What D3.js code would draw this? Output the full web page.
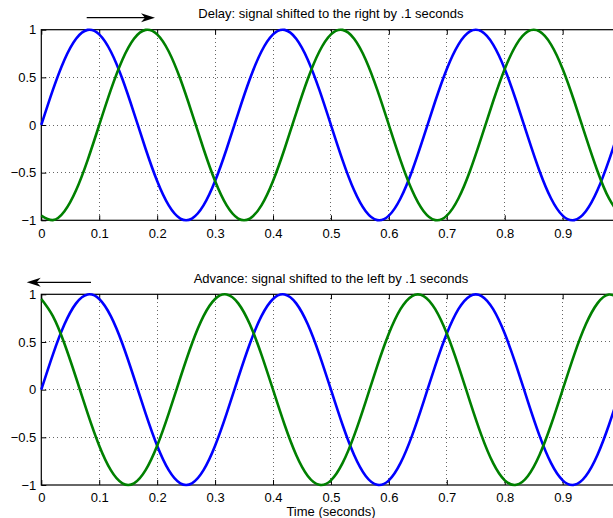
<!DOCTYPE html>
<html><head><meta charset="utf-8">
<script src="https://cdn.jsdelivr.net/npm/d3@7"></script>
<style>
body{margin:0;background:#fff;}
svg{display:block;}
text{font-family:"Liberation Sans",Arial,Helvetica,sans-serif;fill:#000;}
</style></head>
<body><svg id="c" width="613" height="518"></svg>
<script>
// ---- data ----
const time = [0,0.02,0.04,0.06,0.08,0.10,0.12,0.14,0.16,0.18,0.20,0.22,0.24,0.26,0.28,0.30,0.32,0.34,0.36,0.38,0.40,0.42,0.44,0.46,0.48,0.50,0.52,0.54,0.56,0.58,0.60,0.62,0.64,0.66,0.68,0.70,0.72,0.74,0.76,0.78,0.80,0.82,0.84,0.86,0.88,0.90,0.92,0.94,0.96,0.98,1.00];
const original = [0,0.368,0.685,0.905,0.998,0.951,0.771,0.482,0.125,-0.249,-0.588,-0.844,-0.982,-0.982,-0.844,-0.588,-0.249,0.125,0.482,0.771,0.951,0.998,0.905,0.685,0.368,0,-0.368,-0.685,-0.905,-0.998,-0.951,-0.771,-0.482,-0.125,0.249,0.588,0.844,0.982,0.982,0.844,0.588,0.249,-0.125,-0.482,-0.771,-0.951,-0.998,-0.905,-0.685,-0.368,0];
const delayed = [-0.951,-0.998,-0.905,-0.685,-0.368,0,0.368,0.685,0.905,0.998,0.951,0.771,0.482,0.125,-0.249,-0.588,-0.844,-0.982,-0.982,-0.844,-0.588,-0.249,0.125,0.482,0.771,0.951,0.998,0.905,0.685,0.368,0,-0.368,-0.685,-0.905,-0.998,-0.951,-0.771,-0.482,-0.125,0.249,0.588,0.844,0.982,0.982,0.844,0.588,0.249,-0.125,-0.482,-0.771,-0.951];
const advanced = [0.951,0.771,0.482,0.125,-0.249,-0.588,-0.844,-0.982,-0.982,-0.844,-0.588,-0.249,0.125,0.482,0.771,0.951,0.998,0.905,0.685,0.368,0,-0.368,-0.685,-0.905,-0.998,-0.951,-0.771,-0.482,-0.125,0.249,0.588,0.844,0.982,0.982,0.844,0.588,0.249,-0.125,-0.482,-0.771,-0.951,-0.998,-0.905,-0.685,-0.368,0,0.368,0.685,0.905,0.998,0.951];
const xTicks = [0,0.1,0.2,0.3,0.4,0.5,0.6,0.7,0.8,0.9];
const xTickLabels = ["0","0.1","0.2","0.3","0.4","0.5","0.6","0.7","0.8","0.9"];
const yTicks = [-1,-0.5,0,0.5,1];
const yTickLabels = ["\u22121","\u22120.5","0","0.5","1"];
const titles = ["Delay: signal shifted to the right by .1 seconds","Advance: signal shifted to the left by .1 seconds"];
const xLabel = "Time (seconds)";

// ---- drawing ----
const svg = d3.select("#c");
const L = 41.3, R = 620.6;
const x = d3.scaleLinear().domain([0,1]).range([L,R]);
const panels = [
  {top:29.7, bottom:220.3, shifted:delayed, title:titles[0], dir:1},
  {top:294.3, bottom:485, shifted:advanced, title:titles[1], dir:-1}
];
const FS = 13;
const gridCol = "#666";

panels.forEach((p,pi)=>{
  const y = d3.scaleLinear().domain([-1,1]).range([p.bottom,p.top]);
  const g = svg.append("g");
  // grid
  g.append("g").selectAll("line").data(xTicks.slice(1)).join("line")
    .attr("x1",d=>x(d)).attr("x2",d=>x(d)).attr("y1",p.top).attr("y2",p.bottom)
    .attr("stroke",gridCol).attr("stroke-width",1).attr("stroke-dasharray","1,3").attr("shape-rendering","crispEdges");
  g.append("g").selectAll("line").data(yTicks.slice(1,-1)).join("line")
    .attr("x1",L).attr("x2",R).attr("y1",d=>y(d)).attr("y2",d=>y(d))
    .attr("stroke",gridCol).attr("stroke-width",1).attr("stroke-dasharray","1,3").attr("shape-rendering","crispEdges");
  // axes (ticks inside)
  const xa = g.append("g").attr("transform",`translate(0,${p.bottom})`)
    .call(d3.axisBottom(x).tickValues(xTicks).tickFormat((d,i)=>xTickLabels[i]).tickSizeInner(-5).tickSizeOuter(0).tickPadding(8));
  const xt = g.append("g").attr("transform",`translate(0,${p.top})`)
    .call(d3.axisTop(x).tickValues(xTicks).tickFormat("").tickSizeInner(-5).tickSizeOuter(0));
  const ya = g.append("g").attr("transform",`translate(${L},0)`)
    .call(d3.axisLeft(y).tickValues(yTicks).tickFormat((d,i)=>yTickLabels[i]).tickSizeInner(-5).tickSizeOuter(0).tickPadding(5));
  [xa,xt,ya].forEach(a=>{
    a.select(".domain").remove();
    a.selectAll("line").attr("stroke","#000").attr("stroke-width",1);
    a.selectAll("text").attr("font-size",FS).attr("font-family","Liberation Sans, Arial, sans-serif");
  });
  // box
  g.append("rect").attr("x",L).attr("y",p.top).attr("width",R-L).attr("height",p.bottom-p.top)
    .attr("fill","none").attr("stroke","#000").attr("stroke-width",1.2);
  // curves
  const line = d3.line().x((d,i)=>x(time[i])).y(d=>y(d)).curve(d3.curveNatural);
  g.append("path").datum(original).attr("d",line).attr("fill","none").attr("stroke","#0000ff").attr("stroke-width",2.6);
  g.append("path").datum(p.shifted).attr("d",line).attr("fill","none").attr("stroke","#008000").attr("stroke-width",2.6);
  // title
  g.append("text").attr("x",(L+R)/2).attr("y",p.top-11.5).attr("text-anchor","middle").attr("font-size",FS).text(p.title);
  // arrow
  const ay = p.top - 12;
  const x0 = p.dir>0 ? 86.7 : 91, x1 = p.dir>0 ? 155 : 26.7;
  g.append("line").attr("x1",x0).attr("x2",x1 - p.dir*8).attr("y1",ay).attr("y2",ay).attr("stroke","#000").attr("stroke-width",1.2);
  const d = p.dir;
  g.append("path").attr("d",`M${x1},${ay} L${x1-d*14},${ay-4.5} L${x1-d*10},${ay} L${x1-d*14},${ay+4.5} Z`).attr("fill","#000");
});
svg.append("text").attr("x",(L+R)/2).attr("y",516).attr("text-anchor","middle").attr("font-size",FS).text(xLabel);
</script></body></html>
